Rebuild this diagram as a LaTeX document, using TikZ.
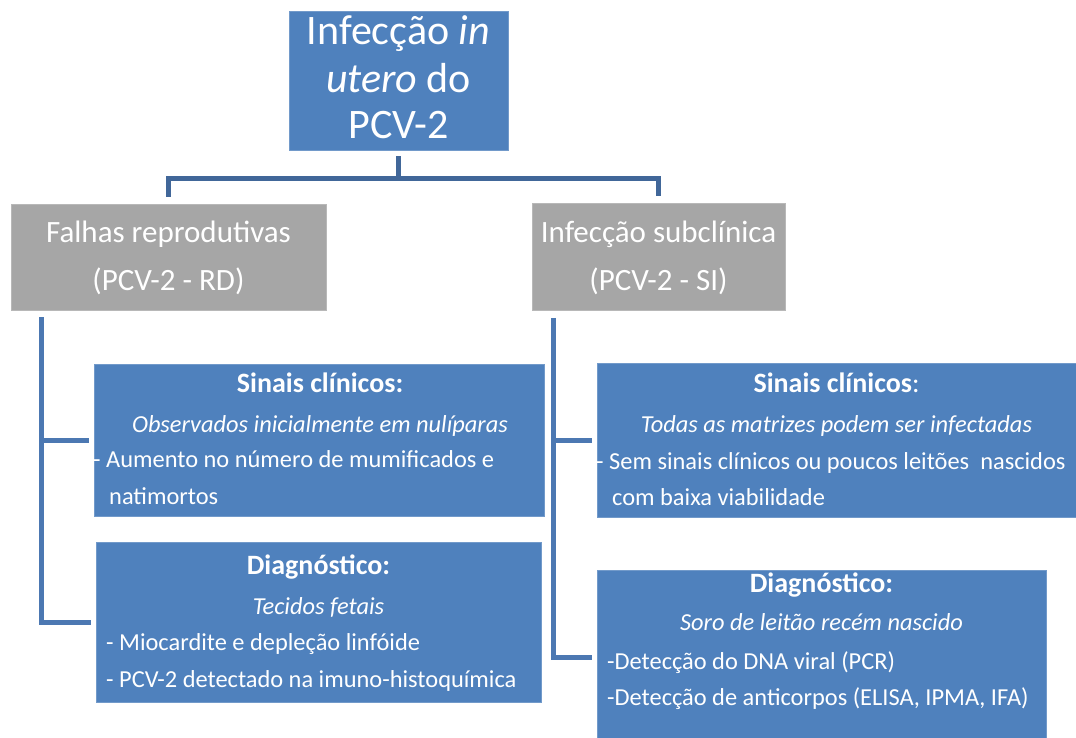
\documentclass[tikz,border=0pt]{standalone}
\usepackage{fontspec}
\setmainfont{Carlito}
\usetikzlibrary{positioning}
\definecolor{boxblue}{RGB}{79,129,189}
\definecolor{boxgrey}{RGB}{166,166,166}
\definecolor{linkblue}{RGB}{65,103,153}
\definecolor{sideblue}{RGB}{76,120,178}
\newcommand\toptextsize{\fontsize{42}{50}\selectfont}
\newcommand\greytextsize{\fontsize{31}{37}\selectfont}
\newcommand\cardheadsize{\fontsize{28}{33}\selectfont}
\newcommand\cardtextsize{\fontsize{24.4}{29}\selectfont}
\tikzset{
    bluebox/.style={rectangle, fill=boxblue, draw=boxblue!80!white, line width=0.8pt, inner sep=0pt},
    greybox/.style={rectangle, fill=boxgrey, draw=boxgrey!80!white, line width=0.8pt, inner sep=0pt},
    txt/.style={text=white, inner sep=0pt, anchor=base},
    txtleft/.style={txt, anchor=base west},
    link/.style={draw=linkblue, line width=5pt, line join=miter},
    sidelink/.style={draw=sideblue, line width=5pt, line join=miter},
}
\begin{document}
\begin{tikzpicture}[x=1pt, y=-1pt]
    \useasboundingbox (0,0) rectangle (1076,738);
    % boxes
    \node[bluebox, minimum width=219pt, minimum height=139pt] (top) at (398.5,80.5) {};
    \node[greybox, minimum width=315pt, minimum height=106pt] (falhas) at (168.5,257) {};
    \node[greybox, minimum width=253pt, minimum height=107pt] (subclin) at (658.5,257) {};
    \node[bluebox, minimum width=450pt, minimum height=152pt] (sinaisL) at (319,440) {};
    \node[bluebox, minimum width=445pt, minimum height=160pt] (diagL) at (318.5,622) {};
    \node[bluebox, minimum width=482pt, minimum height=154pt] (sinaisR) at (838,440) {};
    \node[bluebox, minimum width=449pt, minimum height=174pt] (diagR) at (821.5,657) {};

    % connectors
    \coordinate (fork) at ([yshift=-28pt]top.south);
    \draw[link] ([yshift=-6pt]top.south) -- (fork);
    \draw[link] ([yshift=7pt]falhas.north) |- (fork) -| ([yshift=7pt]subclin.north);
    \draw[sidelink] ([xshift=31pt,yshift=-7pt]falhas.south west) coordinate (lstem)
        |- ([xshift=-5pt]diagL.west);
    \draw[sidelink] (lstem |- sinaisL.west) -- ([xshift=-5pt]sinaisL.west);
    \draw[sidelink] ([xshift=22pt,yshift=-7pt]subclin.south west) coordinate (rstem)
        |- ([xshift=-5pt]diagR.west);
    \draw[sidelink] (rstem |- sinaisR.west) -- ([xshift=-5pt]sinaisR.west);

    % top and grey texts
    \node[txt, font=\toptextsize] (topA) at (398.5,45) {Infecção \textit{in}};
    \node[txt, font=\toptextsize] (topB) at (398.5,93) {\textit{utero} do};
    \node[txt, font=\toptextsize] (topC) at (398.5,139) {PCV-2};
    \node[txt, font=\greytextsize] (falhasA) at (168.5,242) {Falhas reprodutivas};
    \node[txt, font=\greytextsize] (falhasB) at (168.5,290) {(PCV-2 - RD)};
    \node[txt, font=\greytextsize] (subclinA) at (658.5,242) {Infecção subclínica};
    \node[txt, font=\greytextsize] (subclinB) at (658.5,290) {(PCV-2 - SI)};

    % left cards
    \node[txt, font=\cardheadsize\bfseries] (sinaisLA) at (320,392) {Sinais clínicos:};
    \node[txt, font=\cardtextsize\itshape] (sinaisLB) at (320,432) {Observados inicialmente em nulíparas};
    \node[txtleft, font=\cardtextsize] (sinaisLC) at (93,467) {- Aumento no número de mumificados e};
    \node[txtleft, font=\cardtextsize] (sinaisLD) at (109,504) {natimortos};
    \node[txt, font=\cardheadsize\bfseries] (diagLA) at (318.5,574) {Diagnóstico:};
    \node[txt, font=\cardtextsize\itshape] (diagLB) at (318.5,614) {Tecidos fetais};
    \node[txtleft, font=\cardtextsize] (diagLC) at (106,650) {- Miocardite e depleção linfóide};
    \node[txtleft, font=\cardtextsize] (diagLD) at (106,687) {- PCV-2 detectado na imuno-histoquímica};

    % right cards
    \node[txt, font=\cardheadsize] (sinaisRA) at (836.5,392) {\textbf{Sinais clínicos}:};
    \node[txt, font=\cardtextsize\itshape] (sinaisRB) at (836.5,432) {Todas as matrizes podem ser infectadas};
    \node[txtleft, font=\cardtextsize] (sinaisRC) at (596,469) {- Sem sinais clínicos ou poucos leitões~ nascidos};
    \node[txtleft, font=\cardtextsize] (sinaisRD) at (612,505) {com baixa viabilidade};
    \node[txt, font=\cardheadsize\bfseries] (diagRA) at (821.5,592) {Diagnóstico:};
    \node[txt, font=\cardtextsize\itshape] (diagRB) at (821.5,630) {Soro de leitão recém nascido};
    \node[txtleft, font=\cardtextsize] (diagRC) at (607,669) {-Detecção do DNA viral (PCR)};
    \node[txtleft, font=\cardtextsize] (diagRD) at (607,705) {-Detecção de anticorpos (ELISA, IPMA, IFA)};
\end{tikzpicture}
\end{document}
